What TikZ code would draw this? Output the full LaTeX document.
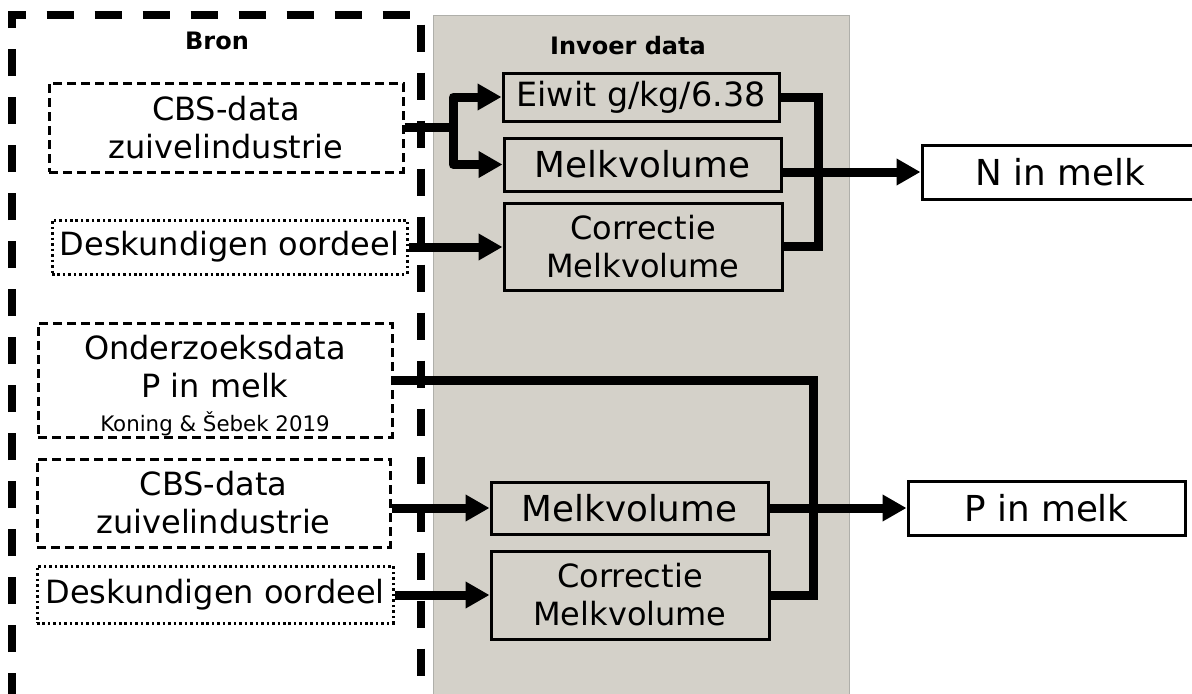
\documentclass[tikz,border=0pt]{standalone}
\usepackage{fontspec}
\setmainfont{DejaVu Sans}
\usetikzlibrary{arrows.meta}

\definecolor{panel}{RGB}{212,209,201}
\definecolor{paneledge}{RGB}{175,175,170}

\newcommand\fsrc{\fontsize{24}{28.5}\selectfont}
\newcommand\feiwit{\fontsize{25}{29}\selectfont}
\newcommand\fbig{\fontsize{26.8}{31}\selectfont}
\newcommand\fsmall{\fontsize{16}{19}\selectfont}
\newcommand\fhead{\fontsize{18}{21}\selectfont\bfseries}

\begin{document}
\begin{tikzpicture}[
  x=0.75pt, y=-0.75pt,
  srcdash/.style={draw, line width=2.25pt, dash pattern=on 6.75pt off 3.75pt,
    fill=white, inner sep=0pt, align=center, font=\fsrc},
  srcdot/.style={draw, line width=2.25pt, dash pattern=on 1.9pt off 2.2pt,
    fill=white, inner sep=0pt, align=center, font=\fsrc},
  inbox/.style={draw, line width=2.25pt, fill=panel, inner sep=0pt, align=center},
  outbox/.style={draw, line width=2.25pt, fill=white, inner sep=0pt, align=center, font=\fbig},
  heading/.style={inner sep=0pt, font=\fhead},
  conn/.style={line width=6.75pt},
  arr/.style={conn, -{Triangle[length=18pt,width=19pt]}}
]
\useasboundingbox (0,0) rectangle (1192,693);
\clip (0,0) rectangle (1192,693);
\fill[white] (0,0) rectangle (1192,693);

% input data panel
\draw[paneledge, fill=panel, line width=0.75pt] (433,15) rectangle (849,700);

% source frame, open at the bottom
\draw[line width=6pt, dash pattern=on 20.25pt off 15.75pt]
  (11.5,700) -- (11.5,15) -- (421,15) -- (421,700);

\node[heading] (bron) at (217,41) {Bron};
\node[heading] (invoer) at (628,46) {Invoer data};

% sources
\node[srcdash, minimum width=265.5pt, minimum height=66.75pt] (cbs1) at (226,127.5)
  {CBS-data\\zuivelindustrie};
\node[srcdot, minimum width=266.25pt, minimum height=40.5pt] (desk1) at (229.5,247)
  {Deskundigen oordeel};
\node[srcdash, minimum width=265.5pt, minimum height=85.5pt] (ond) at (215,380)
  {\rule{0pt}{27pt}Onderzoeksdata\\P in melk\\[-3pt]{\fsmall Koning \& Šebek 2019}};
\node[srcdash, minimum width=264.75pt, minimum height=66pt] (cbs2) at (213.5,503)
  {CBS-data\\zuivelindustrie};
\node[srcdot, minimum width=267pt, minimum height=42.75pt] (desk2) at (215,594.5)
  {Deskundigen oordeel};

% input data
\node[inbox, font=\feiwit, minimum width=207pt, minimum height=36pt] (eiwit) at (641,97)
  {Eiwit g/kg/6.38};
\node[inbox, font=\fbig, minimum width=207.75pt, minimum height=39.75pt] (melk1) at (642.5,164.5)
  {Melkvolume};
\node[inbox, font=\fsrc, minimum width=208.5pt, minimum height=65.25pt] (corr1) at (643,246.5)
  {Correctie\\Melkvolume};
\node[inbox, font=\fbig, minimum width=207.75pt, minimum height=39pt] (melk2) at (629.5,508)
  {Melkvolume};
\node[inbox, font=\fsrc, minimum width=208.5pt, minimum height=66pt] (corr2) at (630,595)
  {Correctie\\Melkvolume};

% results
\node[outbox, minimum width=207.75pt, minimum height=40.5pt] (nmelk) at (1060.5,172) {N in melk};
\node[outbox, minimum width=207.75pt, minimum height=40.5pt] (pmelk) at (1046.5,508) {P in melk};

% junction points
\coordinate (split) at (453,127.5);
\coordinate (jn) at (818,172);
\coordinate (jp) at (813,508);

% nitrogen branch
\draw[conn] (cbs1.east) -- (split);
\draw[arr, line join=round] (split) |- (eiwit.west);
\draw[arr, line join=round] (split) |- (melk1.west);
\draw[arr] (desk1.east) -- (desk1.east -| corr1.west);
\draw[conn] (eiwit.east) -| (jn) |- (corr1.east);
\draw[arr] (melk1.east |- nmelk.west) -- (nmelk.west);

% phosphorus branch
\draw[conn] (ond.east) -| (jp) |- (corr2.east);
\draw[arr] (cbs2.east |- melk2.west) -- (melk2.west);
\draw[arr] (desk2.east |- corr2.west) -- (corr2.west);
\draw[arr] (melk2.east) -- (pmelk.west);
\end{tikzpicture}
\end{document}
